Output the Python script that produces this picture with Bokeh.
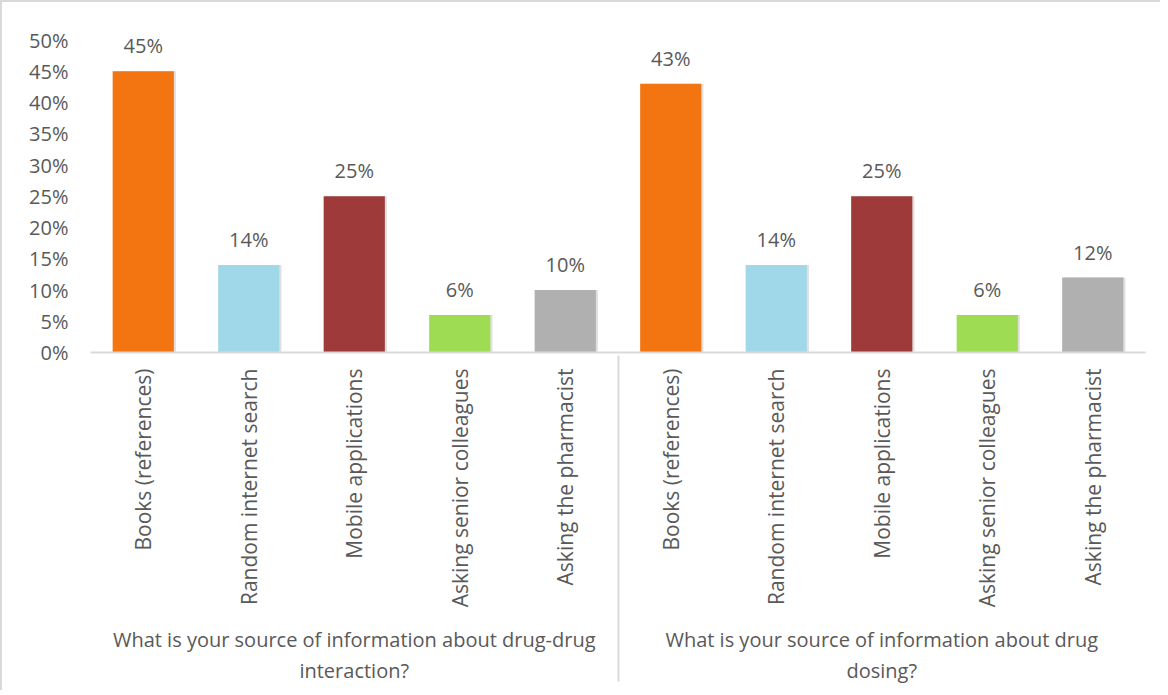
import math
from bokeh.plotting import figure
from bokeh.models import FactorRange, Range1d, FixedTicker, NumeralTickFormatter, ColumnDataSource
from bokeh.transform import dodge
from bokeh.core.properties import value
from bokeh.embed import file_html
from bokeh.resources import INLINE

groups = ["What is your source of information about drug-drug\ninteraction?",
          "What is your source of information about drug\ndosing?"]
sources = ["Books (references)", "Random internet search", "Mobile applications",
           "Asking senior colleagues", "Asking the pharmacist"]
interaction_values = [0.45, 0.14, 0.25, 0.06, 0.10]
dosing_values = [0.43, 0.14, 0.25, 0.06, 0.12]
source_colors = ["#F27512", "#A0D8EA", "#9E3A3A", "#9EDC54", "#B0B0B0"]
y_ticks = [0, 0.05, 0.10, 0.15, 0.20, 0.25, 0.30, 0.35, 0.40, 0.45, 0.50]

factors = [(g, s) for g in groups for s in sources]
vals = interaction_values + dosing_values
cols = source_colors * 2
labels = [f"{round(v * 100)}%" for v in vals]
src = ColumnDataSource(dict(x=factors, top=vals, color=cols, label=labels))

FONT = "Open Sans"
TXT = "#595959"
GRID = "#D9D9D9"

p = figure(x_range=FactorRange(*factors, factor_padding=0, group_padding=0, subgroup_padding=0, range_padding=0),
           y_range=Range1d(0, 0.52),
           width=1160, height=690, output_backend="svg", toolbar_location=None,
           min_border_left=88, min_border_right=17, min_border_top=25, min_border_bottom=340)
p.styles = {"border-top": f"2px solid {GRID}", "border-left": f"2px solid {GRID}"}
p.outline_line_color = None
p.xgrid.grid_line_color = None
p.ygrid.grid_line_color = None
p.background_fill_color = "white"
p.border_fill_color = "white"

# soft shadow
p.vbar(x=dodge("x", 0.02, range=p.x_range), top="top", width=0.58, source=src,
       fill_color="black", fill_alpha=0.12, line_color=None)
p.vbar(x="x", top="top", width=0.58, source=src, fill_color="color", line_color=None)
p.text(x="x", y="top", text="label", source=src, text_align="center", text_baseline="bottom",
       y_offset=-12, text_font=value(FONT), text_font_size="20px", text_color=TXT)

ya = p.yaxis[0]
ya.ticker = FixedTicker(ticks=y_ticks)
ya.formatter = NumeralTickFormatter(format="0%")
ya.axis_line_color = None
ya.major_tick_line_color = None
ya.minor_tick_line_color = None
ya.major_tick_out = 0
ya.minor_tick_out = 0
ya.major_label_standoff = 22
ya.major_label_text_font = FONT
ya.major_label_text_font_size = "20px"
ya.major_label_text_color = TXT

xa = p.xaxis[0]
xa.axis_line_color = GRID
xa.axis_line_width = 2
xa.major_tick_line_color = None
xa.major_tick_out = 0
xa.major_label_orientation = math.pi / 2
xa.major_label_standoff = 16
xa.major_label_text_font = FONT
xa.major_label_text_font_size = "21px"
xa.major_label_text_color = TXT
xa.group_text_font = FONT
xa.group_text_font_size = "20px"
xa.group_text_color = TXT
xa.group_text_font_style = "normal"
xa.group_text_line_height = 1.14
xa.separator_line_color = GRID
xa.separator_line_width = 2

open("out.html", "w").write(file_html(p, INLINE))
